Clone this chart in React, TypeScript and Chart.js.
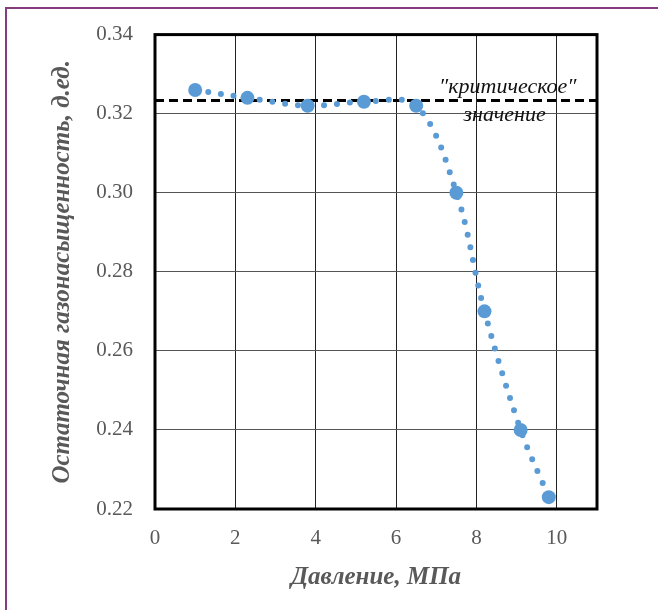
import React, { useEffect, useRef } from "react";
import { Chart, registerables } from "chart.js";

Chart.register(...registerables);

const pressure = [1.0, 2.3, 3.8, 5.2, 6.5, 7.5, 8.2, 9.1, 9.8];
const saturation = [0.326, 0.324, 0.322, 0.323, 0.322, 0.3, 0.27, 0.24, 0.223];
const criticalValue = 0.3233;
const criticalX = [0, 11];
const xTitle = "Давление, МПа";
const yTitle = "Остаточная газонасыщенность, д.ед.";
const labelLine1 = "\u2033критическое\u2033";
const labelLine2 = "значение";

const GRAY = "#595959";
const BLUE = "#5B9BD5";
const SERIF = "'Liberation Serif', 'DejaVu Serif', serif";

const framePlugin = {
  id: "frame",
  beforeDatasetsDraw(chart: any) {
    const { ctx, chartArea } = chart;
    ctx.save();
    ctx.strokeStyle = "#000";
    ctx.lineWidth = 3;
    ctx.strokeRect(chartArea.left, chartArea.top, chartArea.right - chartArea.left, chartArea.bottom - chartArea.top);
    ctx.restore();
  },
  afterDatasetsDraw(chart: any) {
    const { ctx, scales } = chart;
    const xs = scales.x;
    const ys = scales.y;
    ctx.save();
    ctx.fillStyle = "#111";
    ctx.font = "italic 22px " + SERIF;
    ctx.textAlign = "center";
    ctx.textBaseline = "middle";
    ctx.fillText(labelLine1, xs.getPixelForValue(8.78), ys.getPixelForValue(0.3268));
    ctx.fillText(labelLine2, xs.getPixelForValue(8.7), ys.getPixelForValue(0.3195));
    ctx.restore();
  },
};

export default function App() {
  const ref = useRef<HTMLCanvasElement | null>(null);
  useEffect(() => {
    if (!ref.current) return;
    const chart = new Chart(ref.current, {
      type: "scatter",
      data: {
        datasets: [
          {
            label: "data",
            data: pressure.map((x, i) => ({ x, y: saturation[i] })),
            showLine: true,
            tension: 0.35,
            borderColor: BLUE,
            backgroundColor: BLUE,
            borderWidth: 6,
            borderDash: [0, 13],
            borderCapStyle: "round",
            pointRadius: 7,
            pointBorderWidth: 0,
            order: 0,
          } as any,
          {
            label: "critical",
            data: criticalX.map((x) => ({ x, y: criticalValue })),
            showLine: true,
            borderColor: "#000",
            borderWidth: 3,
            borderDash: [9, 5],
            pointRadius: 0,
            order: 1,
          } as any,
        ],
      },
      options: {
        animation: false,
        responsive: false,
        layout: { padding: { top: 33, right: 61, left: 0, bottom: 0 } },
        plugins: { legend: { display: false }, tooltip: { enabled: false } },
        scales: {
          x: {
            type: "linear",
            min: 0,
            max: 11,
            afterFit: (s: any) => {
              s.height = 101;
            },
            ticks: {
              stepSize: 2,
              includeBounds: false,
              padding: 17,
              color: GRAY,
              font: { family: SERIF, size: 21 },
            },
            grid: { color: "#222", lineWidth: 1, drawTicks: false },
            border: { display: false },
            title: {
              display: true,
              text: xTitle,
              color: GRAY,
              font: { family: SERIF, size: 25, style: "italic", weight: "bold" },
              padding: { top: 0, bottom: 17 },
            },
          },
          y: {
            type: "linear",
            min: 0.22,
            max: 0.34,
            afterFit: (s: any) => {
              s.width = 155;
            },
            ticks: {
              stepSize: 0.02,
              padding: 22,
              color: GRAY,
              font: { family: SERIF, size: 21 },
              callback: (v: any) => Number(v).toFixed(2),
            },
            grid: { color: "#555", lineWidth: 1, drawTicks: false },
            border: { display: false },
            title: {
              display: true,
              text: yTitle,
              color: GRAY,
              font: { family: SERIF, size: 25, style: "italic", weight: "bold" },
              padding: { top: 48, bottom: 0 },
            },
          },
        },
      },
      plugins: [framePlugin],
    });
    return () => chart.destroy();
  }, []);
  return (
    <div style={{ position: "absolute", left: 0, top: 0, width: 658, height: 610, overflow: "hidden", background: "#fff" }}>
      <div
        style={{
          position: "absolute",
          left: 5,
          top: 7,
          width: 700,
          height: 700,
          border: "2px solid #843C7C",
        }}
      />
      <canvas ref={ref} width={658} height={610} style={{ position: "absolute", left: 0, top: 0, width: 658, height: 610 }} />
    </div>
  );
}
